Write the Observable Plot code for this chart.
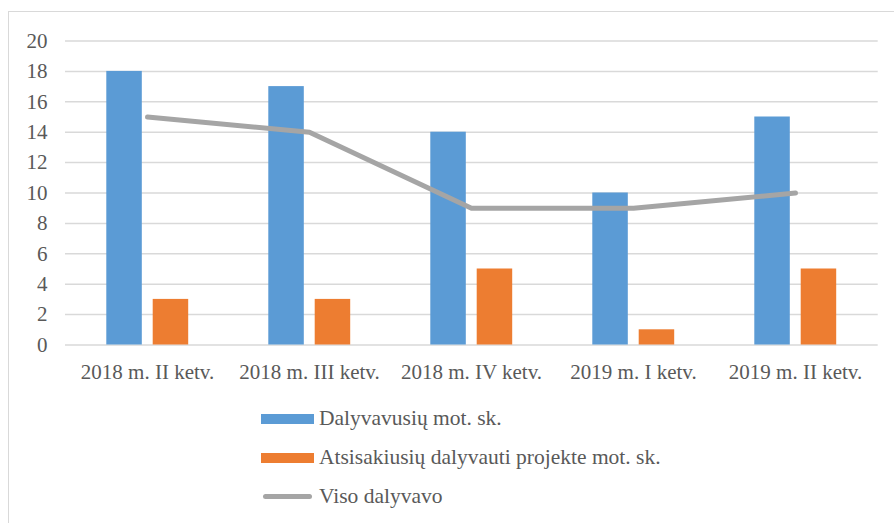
<!DOCTYPE html>
<html>
<head>
<meta charset="utf-8">
<script src="https://cdn.jsdelivr.net/npm/d3@7"></script>
<script src="https://cdn.jsdelivr.net/npm/@observablehq/plot@0.6"></script>
<style>
  html, body { margin: 0; padding: 0; background: #fff; width: 894px; height: 523px; overflow: hidden; }
  #frame { position: absolute; left: 8px; top: 11px; width: 1000px; height: 1000px; border: 1.5px solid #d9d9d9; box-sizing: border-box; }
  #chart { position: absolute; left: 0; top: 0; }
  #legend { position: absolute; left: 261px; top: 399px; font-family: "Liberation Serif", "Times New Roman", serif; font-size: 21.5px; color: #595959; }
  .row { display: flex; align-items: center; height: 39px; }
  .sw { width: 53px; height: 10px; margin-right: 5px; }
  .ln { width: 49px; height: 5px; border-radius: 3px; margin: 0 7px 0 2px; background: #a5a5a5; }
</style>
</head>
<body>
<div id="frame"></div>
<div id="chart"></div>
<div id="legend"></div>
<script>
const categories = ["2018 m. II ketv.", "2018 m. III ketv.", "2018 m. IV ketv.", "2019 m. I ketv.", "2019 m. II ketv."];
const dalyvavusiu = [18, 17, 14, 10, 15];
const atsisakiusiu = [3, 3, 5, 1, 5];
const visoDalyvavo = [15, 14, 9, 9, 10];
const seriesNames = ["Dalyvavusių mot. sk.", "Atsisakiusių dalyvauti projekte mot. sk.", "Viso dalyvavo"];
const colors = ["#5b9bd5", "#ed7d31", "#a5a5a5"];
const yTicks = [0, 2, 4, 6, 8, 10, 12, 14, 16, 18, 20];

const blue = categories.map((c, i) => ({c, v: dalyvavusiu[i]}));
const orange = categories.map((c, i) => ({c, v: atsisakiusiu[i]}));
const line = categories.map((c, i) => ({c, v: visoDalyvavo[i]}));

const plot = Plot.plot({
  width: 894,
  height: 390,
  marginLeft: 65,
  marginRight: 16.3,
  marginTop: 40.5,
  marginBottom: 45.5,
  style: { fontFamily: "'Liberation Serif', 'Times New Roman', serif", fontSize: "21px", color: "#595959", background: "transparent" },
  x: { domain: categories, padding: 0, label: null, tickSize: 0, tickPadding: 19 },
  y: { domain: [0, 20], ticks: yTicks, label: null, tickSize: 0, tickPadding: 18 },
  marks: [
    Plot.gridY(yTicks, { stroke: "#d9d9d9", strokeOpacity: 1, strokeWidth: 1.5 }),
    Plot.barY(blue, { x: "c", y: "v", fill: colors[0], insetLeft: 40.3, insetRight: 86.2 }),
    Plot.barY(orange, { x: "c", y: "v", fill: colors[1], insetLeft: 86.7, insetRight: 39.8 }),
    Plot.line(line, { x: "c", y: "v", stroke: colors[2], strokeWidth: 5, strokeLinecap: "round", strokeLinejoin: "round" })
  ]
});
document.getElementById("chart").appendChild(plot);

const legend = document.getElementById("legend");
seriesNames.forEach((name, i) => {
  const row = document.createElement("div");
  row.className = "row";
  const sw = document.createElement("div");
  if (i < 2) { sw.className = "sw"; sw.style.background = colors[i]; }
  else { sw.className = "ln"; }
  row.appendChild(sw);
  const t = document.createElement("span");
  t.textContent = name;
  row.appendChild(t);
  legend.appendChild(row);
});
</script>
</body>
</html>
